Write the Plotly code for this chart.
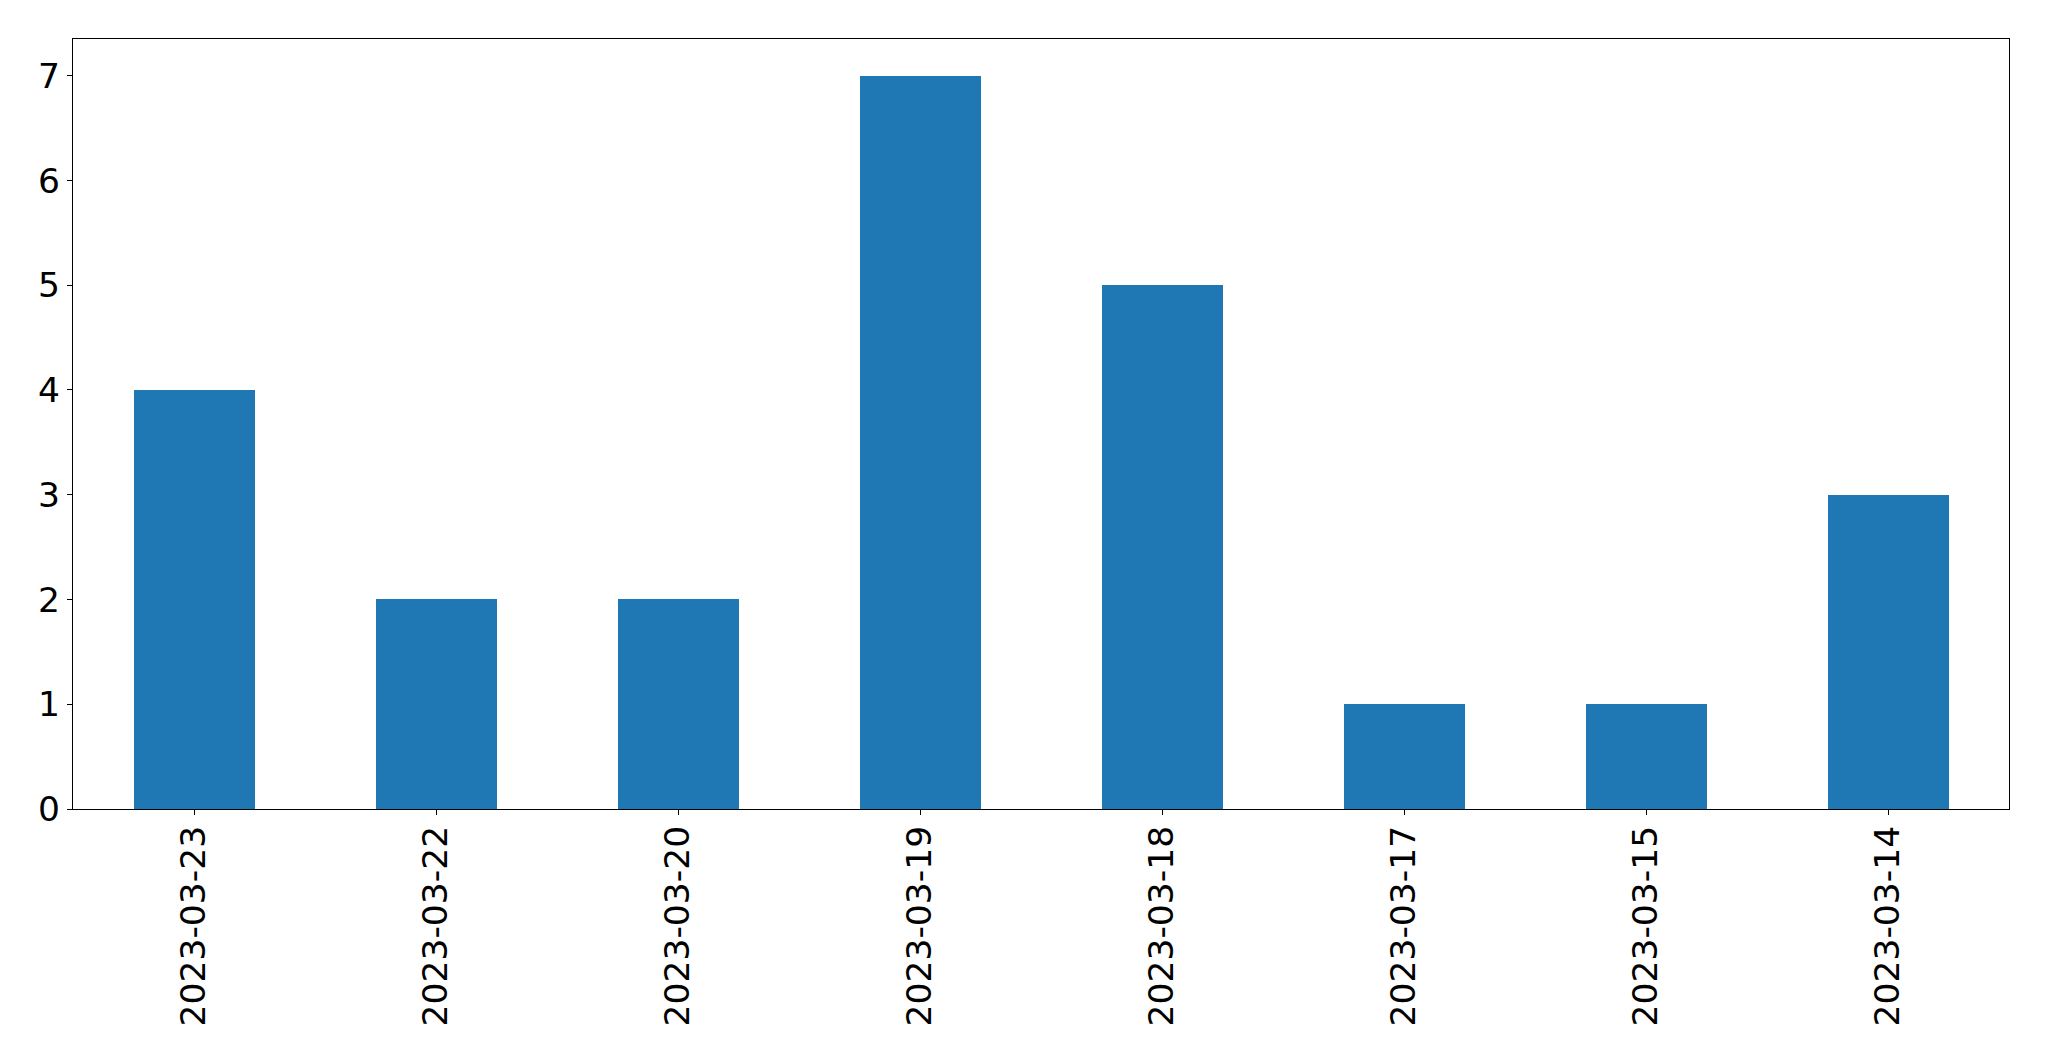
import plotly.graph_objects as go

dates = ["2023-03-23", "2023-03-22", "2023-03-20", "2023-03-19",
         "2023-03-18", "2023-03-17", "2023-03-15", "2023-03-14"]
counts = [4, 2, 2, 7, 5, 1, 1, 3]
y_ticks = [0, 1, 2, 3, 4, 5, 6, 7]

fig = go.Figure(go.Bar(x=dates, y=counts, width=0.5, marker_color="#1f77b4",
                       marker_line_width=0))

font = dict(family="DejaVu Sans", size=34.5, color="black")
fig.update_layout(
    width=2041, height=1053,
    margin=dict(l=65, r=40, t=31, b=252, pad=0),
    plot_bgcolor="white", paper_bgcolor="white",
    showlegend=False, bargap=0,
    font=font,
)
fig.update_xaxes(type="category", range=[-0.5, len(dates) - 0.5],
                 showline=True, linecolor="black", linewidth=1.2, mirror=True,
                 ticks="outside", ticklen=5, tickwidth=1.2, tickcolor="black",
                 tickangle=-90, showgrid=False, zeroline=False, tickfont=font,
                 ticklabelstandoff=-3)
fig.update_yaxes(range=[0, 7.35], tickvals=y_ticks,
                 showline=True, linecolor="black", linewidth=1.2, mirror=True,
                 ticks="outside", ticklen=5, tickwidth=1.2, tickcolor="black",
                 showgrid=False, zeroline=False, tickfont=font)

fig.write_html("out.html")
